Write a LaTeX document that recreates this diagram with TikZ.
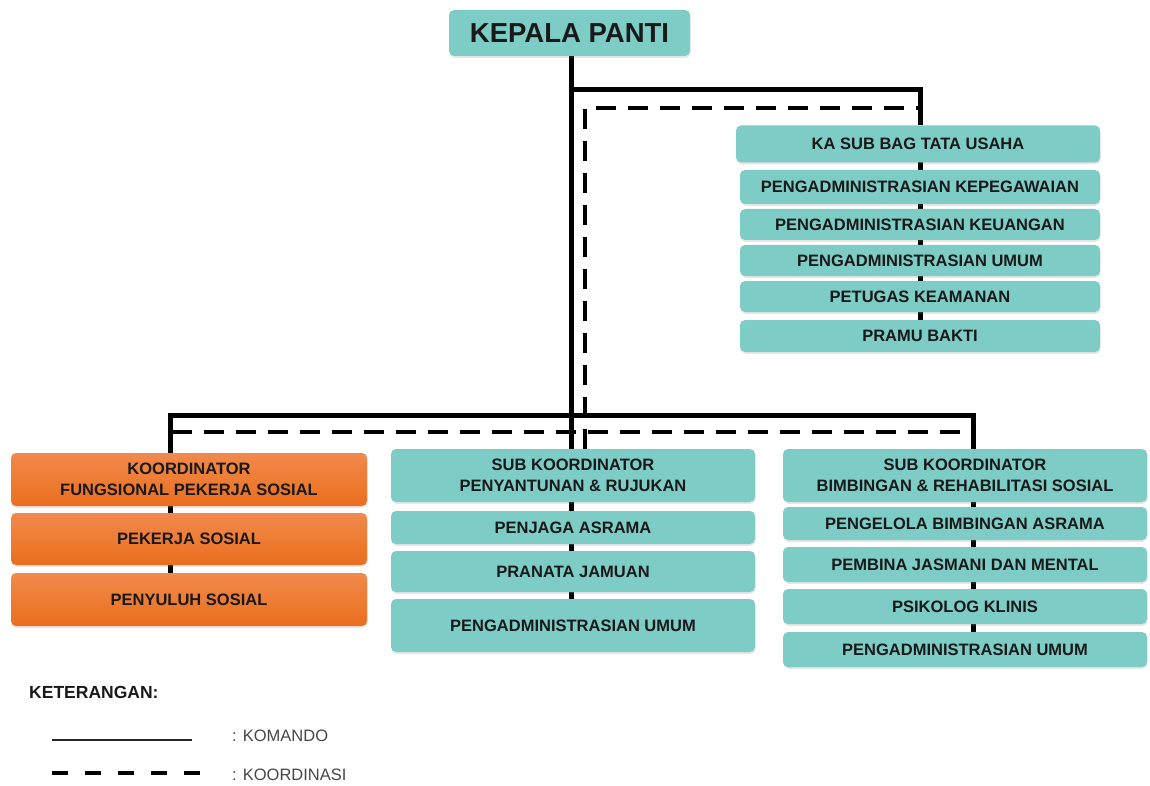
\documentclass[tikz,border=0pt]{standalone}
\usepackage{fontspec}
\setmainfont{Liberation Sans}
\usetikzlibrary{shadows,backgrounds}
\definecolor{teal1}{RGB}{125,204,197}
\definecolor{or1}{RGB}{241,138,76}
\definecolor{or2}{RGB}{234,110,30}
\definecolor{txt}{RGB}{25,25,25}
\definecolor{legtxt}{RGB}{70,70,70}
\tikzset{
 box/.style={rounded corners=5pt, inner sep=0pt, outer sep=0pt, align=center, text=txt,
   font=\fontsize{16.5}{21}\selectfont\bfseries,
   drop shadow={shadow xshift=0.6pt,shadow yshift=-1.8pt,opacity=0.2}},
 tbox/.style={box, fill=teal1},
 obox/.style={box, top color=or1, bottom color=or2},
 cmd/.style={line width=5pt, black},
 koord/.style={line width=3.8pt, black, dash pattern=on 20pt off 12pt},
 legtext/.style={anchor=west, text=legtxt, font=\fontsize{16.5}{20}\selectfont, inner sep=0pt},
}
\begin{document}
\begin{tikzpicture}[x=1pt,y=-1pt]
\useasboundingbox (0,0) rectangle (1150,786);

% head
\node[tbox, minimum width=241, minimum height=46, font=\fontsize{27.5}{30}\selectfont\bfseries] (kepala) at (569.5,33) {KEPALA PANTI};

% top right column
\node[tbox, minimum width=364, minimum height=37] (ka) at (918,144) {KA SUB BAG TATA USAHA};
\node[tbox, minimum width=360, minimum height=34] (kp) at (920,187) {PENGADMINISTRASIAN KEPEGAWAIAN};
\node[tbox, minimum width=360, minimum height=31] (ku) at (920,224.5) {PENGADMINISTRASIAN KEUANGAN};
\node[tbox, minimum width=360, minimum height=31] (um1) at (920,260.5) {PENGADMINISTRASIAN UMUM};
\node[tbox, minimum width=360, minimum height=31] (pk) at (920,296.5) {PETUGAS KEAMANAN};
\node[tbox, minimum width=360, minimum height=32] (pb) at (920,336) {PRAMU BAKTI};

% left orange column
\node[obox, minimum width=356, minimum height=53] (ko) at (189,479.5) {KOORDINATOR\\FUNGSIONAL PEKERJA SOSIAL};
\node[obox, minimum width=356, minimum height=52] (ps) at (189,539) {PEKERJA SOSIAL};
\node[obox, minimum width=356, minimum height=53] (py) at (189,599.5) {PENYULUH SOSIAL};

% middle column
\node[tbox, minimum width=364, minimum height=53] (sk1) at (573,475.5) {SUB KOORDINATOR\\PENYANTUNAN \& RUJUKAN};
\node[tbox, minimum width=364, minimum height=33] (pa) at (573,527.5) {PENJAGA ASRAMA};
\node[tbox, minimum width=364, minimum height=41] (pj) at (573,571.5) {PRANATA JAMUAN};
\node[tbox, minimum width=364, minimum height=53] (um2) at (573,625.5) {PENGADMINISTRASIAN UMUM};

% right column
\node[tbox, minimum width=364, minimum height=53] (sk2) at (965,475.5) {SUB KOORDINATOR\\BIMBINGAN \& REHABILITASI SOSIAL};
\node[tbox, minimum width=364, minimum height=33] (pba) at (965,523.5) {PENGELOLA BIMBINGAN ASRAMA};
\node[tbox, minimum width=364, minimum height=35] (pjm) at (965,564.5) {PEMBINA JASMANI DAN MENTAL};
\node[tbox, minimum width=364, minimum height=35] (psi) at (965,606.5) {PSIKOLOG KLINIS};
\node[tbox, minimum width=364, minimum height=35] (um3) at (965,649.5) {PENGADMINISTRASIAN UMUM};

% coordinates for connectors
\coordinate (mx) at (571,0);
\coordinate (rtx) at (920,0);
\coordinate (lx) at (170,0);
\coordinate (rx) at (973,0);
\coordinate (dx) at (585,0);
\coordinate (tb) at (571,90);
\coordinate (bl) at (170,415);
\coordinate (br) at (973,415);
\coordinate (dt) at (585,108);
\coordinate (dtr) at (918,108);
\coordinate (dbl) at (172,432);
\coordinate (dbr) at (971,432);

\begin{scope}[on background layer]
 % komando
 \draw[cmd] (kepala.south -| mx) -- (um2.north -| mx);
 \draw[cmd] (tb) -| (ka.north -| rtx);
 \draw[cmd] (ka.south -| rtx) -- (pb.north -| rtx);
 \draw[cmd] (ko.north -| lx) -- (bl) -- (br) -- (sk2.north -| rx);
 \draw[cmd] (ko.south -| lx) -- (py.north -| lx);
 \draw[cmd] (sk2.south -| rx) -- (um3.north -| rx);
 % koordinasi
 \draw[koord] (sk1.north -| dx) -- (dt) -- (dtr);
 \draw[koord] (dbl) -- (dbr);
\end{scope}

% legend
\node[anchor=west, text=txt, inner sep=0pt, font=\fontsize{17.5}{20}\selectfont\bfseries] (ket) at (29,692) {KETERANGAN:};
\coordinate (l1a) at (52,740);
\coordinate (l1b) at (192,740);
\coordinate (l2a) at (52,773);
\coordinate (l2b) at (202,773);
\draw[line width=2pt, black!85] (l1a) -- (l1b);
\draw[line width=4pt, black, dash pattern=on 16pt off 17pt] (l2a) -- (l2b);
\node[legtext] (kom) at (232,736) {: KOMANDO};
\node[legtext] (koo) at (232,775) {: KOORDINASI};
\end{tikzpicture}
\end{document}
